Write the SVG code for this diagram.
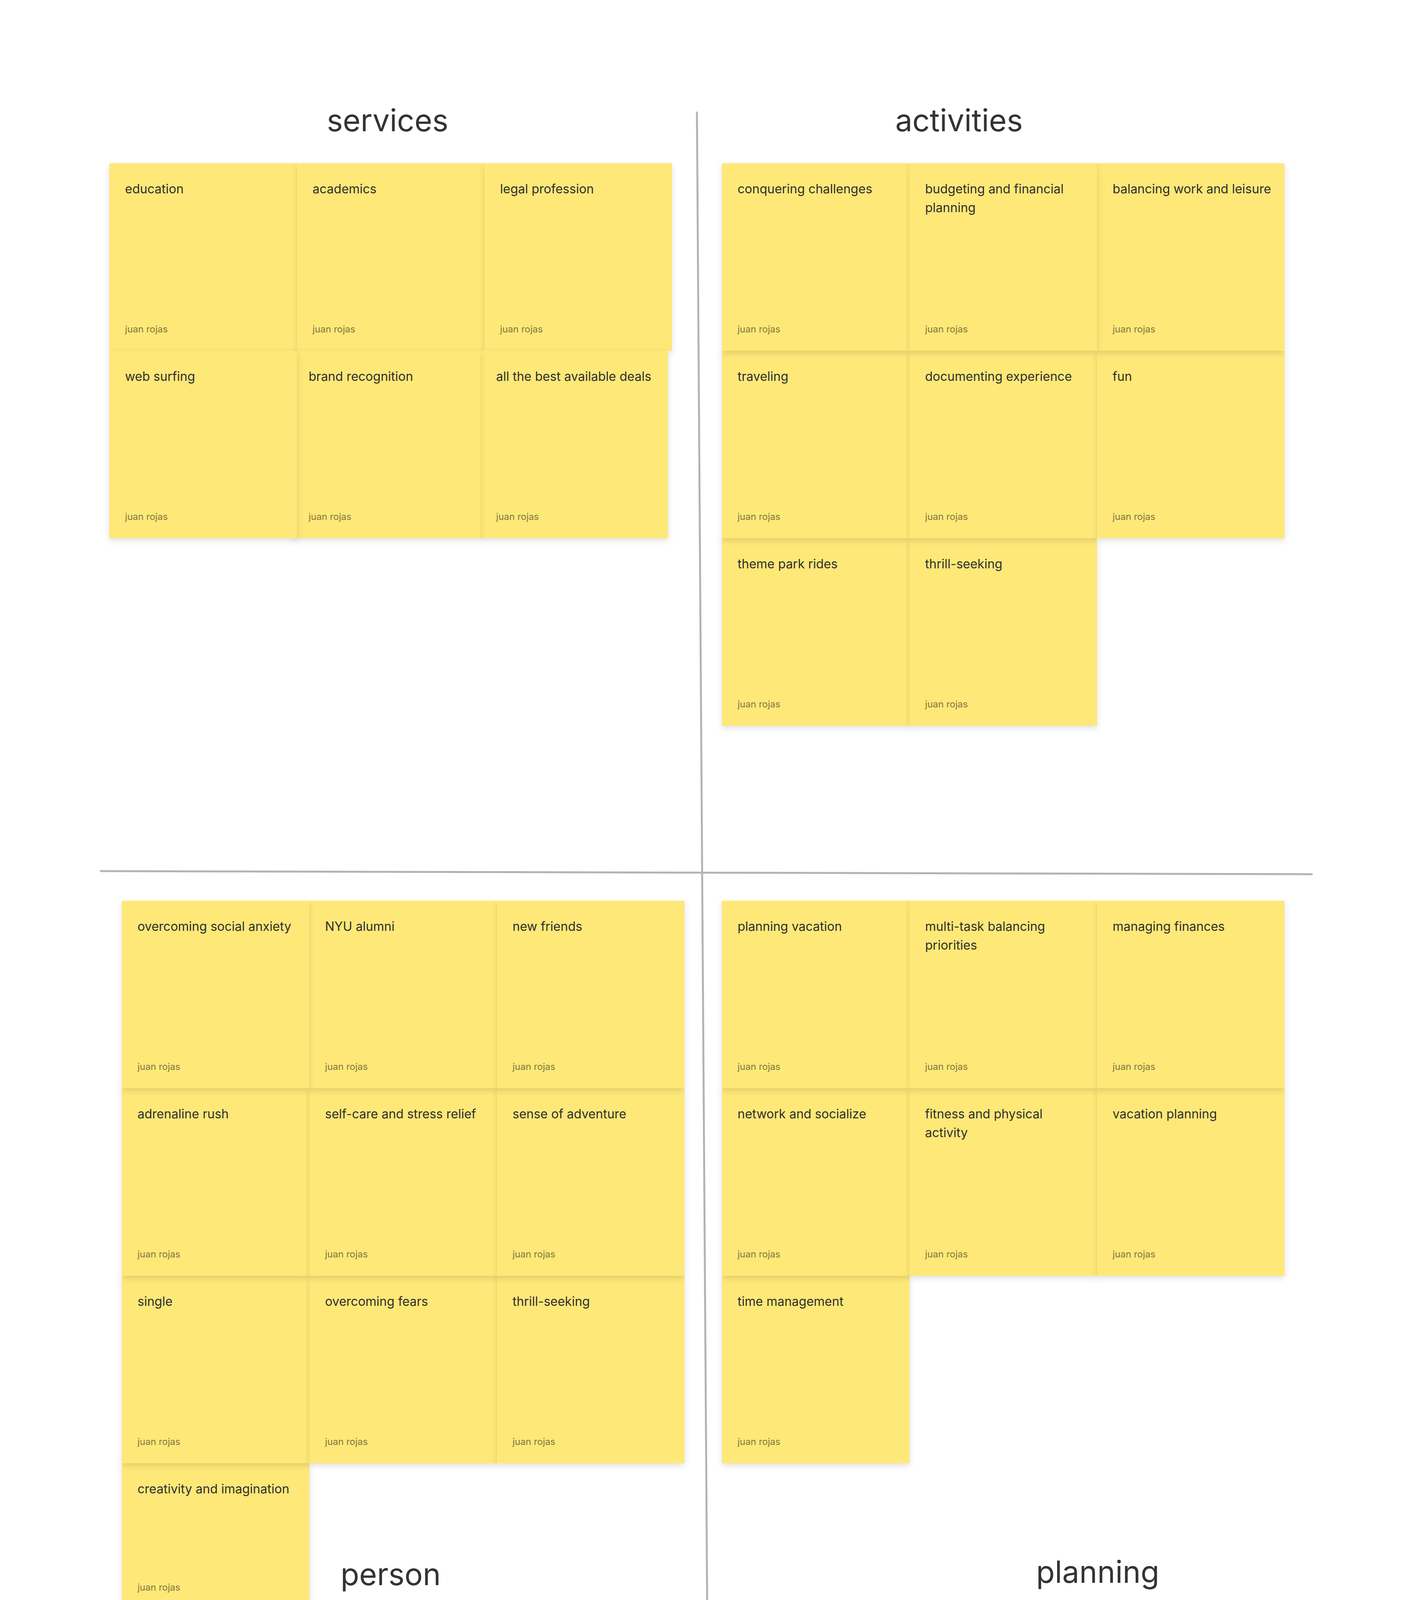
<svg xmlns="http://www.w3.org/2000/svg" width="3640" height="4804" viewBox="0 0 3640 4804">
<style>
.note{fill:#FEE878;filter:url(#sh)}
.t{font-family:Inter,"Liberation Sans",sans-serif;font-size:32px;fill:#2e2e2e}
.a{font-family:Inter,"Liberation Sans",sans-serif;font-size:24px;fill:#7f763f}
.h{font-family:Inter,"Liberation Sans",sans-serif;font-size:78px;fill:#333333;text-anchor:middle}
.div{stroke:#b3b3b3;stroke-width:5;stroke-linecap:round;fill:none}
</style>
<defs>
<filter id="sh" x="-10%" y="-10%" width="120%" height="130%">
<feDropShadow dx="0" dy="6" stdDeviation="8" flood-color="#000" flood-opacity="0.12"/>
</filter>
</defs>
<rect width="3640" height="4804" fill="#ffffff"/>
<g id="dividers">
<line class="div" x1="1784" y1="288" x2="1813" y2="4516"/>
<line class="div" x1="258" y1="2230" x2="3358" y2="2238"/>
</g>
<g id="titles">
<text id="title-services" class="h" x="992" y="336">services</text>
<text id="title-activities" class="h" x="2455" y="336">activities</text>
<text id="title-person" class="h" x="1000" y="4058">person</text>
<text id="title-planning" class="h" x="2810" y="4052">planning</text>
</g>
<g id="services">
<g id="n-education" transform="translate(280,418)"><rect class="note" width="480" height="480"/><text class="t" x="40" y="77">education</text><text class="a" x="40" y="433">juan rojas</text></g>
<g id="n-academics" transform="translate(760,418)"><rect class="note" width="480" height="480"/><text class="t" x="40" y="77">academics</text><text class="a" x="40" y="433">juan rojas</text></g>
<g id="n-legal" transform="translate(1240,418)"><rect class="note" width="480" height="480"/><text class="t" x="40" y="77">legal profession</text><text class="a" x="40" y="433">juan rojas</text></g>
<g id="n-deals" transform="translate(1230,898)"><rect class="note" width="480" height="480"/><text class="t" x="40" y="77">all the best available deals</text><text class="a" x="40" y="433">juan rojas</text></g>
<g id="n-brand" transform="translate(750,898)"><rect class="note" width="480" height="480"/><text class="t" x="40" y="77">brand recognition</text><text class="a" x="40" y="433">juan rojas</text></g>
<g id="n-web" transform="translate(280,898)"><rect class="note" width="480" height="480"/><text class="t" x="40" y="77">web surfing</text><text class="a" x="40" y="433">juan rojas</text></g>
</g>
<g id="activities">
<g id="n-theme" transform="translate(1848,1378)"><rect class="note" width="480" height="480"/><text class="t" x="40" y="77">theme park rides</text><text class="a" x="40" y="433">juan rojas</text></g>
<g id="n-thrill1" transform="translate(2328,1378)"><rect class="note" width="480" height="480"/><text class="t" x="40" y="77">thrill-seeking</text><text class="a" x="40" y="433">juan rojas</text></g>
<g id="n-traveling" transform="translate(1848,898)"><rect class="note" width="480" height="480"/><text class="t" x="40" y="77">traveling</text><text class="a" x="40" y="433">juan rojas</text></g>
<g id="n-documenting" transform="translate(2328,898)"><rect class="note" width="480" height="480"/><text class="t" x="40" y="77">documenting experience</text><text class="a" x="40" y="433">juan rojas</text></g>
<g id="n-fun" transform="translate(2808,898)"><rect class="note" width="480" height="480"/><text class="t" x="40" y="77">fun</text><text class="a" x="40" y="433">juan rojas</text></g>
<g id="n-conquering" transform="translate(1848,418)"><rect class="note" width="480" height="480"/><text class="t" x="40" y="77">conquering challenges</text><text class="a" x="40" y="433">juan rojas</text></g>
<g id="n-balancing" transform="translate(2808,418)"><rect class="note" width="480" height="480"/><text class="t" x="40" y="77">balancing work and leisure</text><text class="a" x="40" y="433">juan rojas</text></g>
<g id="n-budgeting" transform="translate(2328,418)"><rect class="note" width="480" height="480"/><text class="t" x="40" y="77">budgeting and financial<tspan x="40" dy="48">planning</tspan></text><text class="a" x="40" y="433">juan rojas</text></g>
</g>
<g id="person">
<g id="n-creativity" transform="translate(312,3746)"><rect class="note" width="480" height="480"/><text class="t" x="40" y="77">creativity and imagination</text><text class="a" x="40" y="326">juan rojas</text></g>
<g id="n-single" transform="translate(312,3266)"><rect class="note" width="480" height="480"/><text class="t" x="40" y="77">single</text><text class="a" x="40" y="433">juan rojas</text></g>
<g id="n-fears" transform="translate(792,3266)"><rect class="note" width="480" height="480"/><text class="t" x="40" y="77">overcoming fears</text><text class="a" x="40" y="433">juan rojas</text></g>
<g id="n-thrill2" transform="translate(1272,3266)"><rect class="note" width="480" height="480"/><text class="t" x="40" y="77">thrill-seeking</text><text class="a" x="40" y="433">juan rojas</text></g>
<g id="n-adrenaline" transform="translate(312,2786)"><rect class="note" width="480" height="480"/><text class="t" x="40" y="77">adrenaline rush</text><text class="a" x="40" y="433">juan rojas</text></g>
<g id="n-selfcare" transform="translate(792,2786)"><rect class="note" width="480" height="480"/><text class="t" x="40" y="77">self-care and stress relief</text><text class="a" x="40" y="433">juan rojas</text></g>
<g id="n-adventure" transform="translate(1272,2786)"><rect class="note" width="480" height="480"/><text class="t" x="40" y="77">sense of adventure</text><text class="a" x="40" y="433">juan rojas</text></g>
<g id="n-nyu" transform="translate(792,2306)"><rect class="note" width="480" height="480"/><text class="t" x="40" y="77">NYU alumni</text><text class="a" x="40" y="433">juan rojas</text></g>
<g id="n-friends" transform="translate(1272,2306)"><rect class="note" width="480" height="480"/><text class="t" x="40" y="77">new friends</text><text class="a" x="40" y="433">juan rojas</text></g>
<g id="n-anxiety" transform="translate(312,2306)"><rect class="note" width="480" height="480"/><text class="t" x="40" y="77">overcoming social anxiety</text><text class="a" x="40" y="433">juan rojas</text></g>
</g>
<g id="planning">
<g id="n-time" transform="translate(1848,3266)"><rect class="note" width="480" height="480"/><text class="t" x="40" y="77">time management</text><text class="a" x="40" y="433">juan rojas</text></g>
<g id="n-network" transform="translate(1848,2786)"><rect class="note" width="480" height="480"/><text class="t" x="40" y="77">network and socialize</text><text class="a" x="40" y="433">juan rojas</text></g>
<g id="n-fitness" transform="translate(2328,2786)"><rect class="note" width="480" height="480"/><text class="t" x="40" y="77">fitness and physical<tspan x="40" dy="48">activity</tspan></text><text class="a" x="40" y="433">juan rojas</text></g>
<g id="n-vacplan" transform="translate(2808,2786)"><rect class="note" width="480" height="480"/><text class="t" x="40" y="77">vacation planning</text><text class="a" x="40" y="433">juan rojas</text></g>
<g id="n-planvac" transform="translate(1848,2306)"><rect class="note" width="480" height="480"/><text class="t" x="40" y="77">planning vacation</text><text class="a" x="40" y="433">juan rojas</text></g>
<g id="n-multitask" transform="translate(2328,2306)"><rect class="note" width="480" height="480"/><text class="t" x="40" y="77">multi-task balancing<tspan x="40" dy="48">priorities</tspan></text><text class="a" x="40" y="433">juan rojas</text></g>
<g id="n-finances" transform="translate(2808,2306)"><rect class="note" width="480" height="480"/><text class="t" x="40" y="77">managing finances</text><text class="a" x="40" y="433">juan rojas</text></g>
</g>
</svg>
